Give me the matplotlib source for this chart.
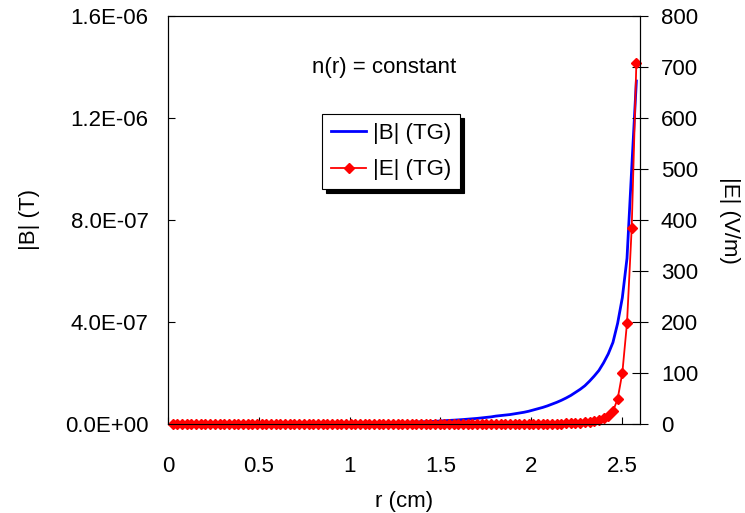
import numpy as np
import matplotlib
matplotlib.use("Agg")
import matplotlib.pyplot as plt

plt.rcParams['font.family'] = ['Liberation Sans', 'DejaVu Sans']

# r grid (cm), 100 points up to the edge at 2.58 cm
r_cm = np.arange(1, 101) * 0.0258

# |B| in nT
B_nT = [
    0.3, 0.3, 0.3, 0.3, 0.4, 0.4, 0.4, 0.4, 0.5, 0.5,
    0.5, 0.6, 0.6, 0.6, 0.7, 0.7, 0.8, 0.8, 0.9, 0.9,
    1.0, 1.0, 1.1, 1.2, 1.2, 1.3, 1.4, 1.5, 1.6, 1.7,
    1.8, 1.9, 2.0, 2.1, 2.2, 2.4, 2.5, 2.7, 2.9, 3.1,
    3.3, 3.5, 3.8, 4.1, 4.4, 4.7, 5.0, 5.4, 5.8, 6.2,
    6.7, 7.2, 7.8, 8.4, 9.0, 9.8, 10.6, 11.6, 12.8, 14.0,
    15.0, 16.2, 17.5, 19.0, 20.5, 22.0, 24.0, 26.0, 28.0, 31.0,
    33.0, 35.0, 37.0, 40.0, 43.0, 46.0, 50.0, 55.0, 60.0, 65.0,
    71.0, 78.0, 85.0, 93.0, 102.0, 112.0, 124.0, 136.0, 150.0, 168.0,
    188.0, 210.0, 240.0, 275.0, 320.0, 395.0, 495.0, 650.0, 1000.0, 1345.0,
]

# |E| in V/m
E_vm = [
    0.0, 0.0, 0.0, 0.0, 0.0, 0.0, 0.0, 0.0, 0.0, 0.0,
    0.0, 0.0, 0.0, 0.0, 0.0, 0.0, 0.0, 0.0, 0.0, 0.0,
    0.0, 0.0, 0.0, 0.0, 0.0, 0.0, 0.0, 0.0, 0.0, 0.0,
    0.0, 0.0, 0.0, 0.0, 0.0, 0.0, 0.0, 0.0, 0.0, 0.0,
    0.0, 0.0, 0.0, 0.0, 0.0, 0.0, 0.0, 0.0, 0.0, 0.0,
    0.0, 0.0, 0.0, 0.0, 0.0, 0.0, 0.0, 0.0, 0.0, 0.0,
    0.0, 0.0, 0.0, 0.0, 0.0, 0.0, 0.0, 0.0, 0.1, 0.1,
    0.1, 0.1, 0.1, 0.2, 0.2, 0.2, 0.3, 0.3, 0.4, 0.5,
    0.5, 0.6, 0.7, 0.8, 1.0, 1.2, 1.5, 2.0, 3.0, 4.0,
    5.5, 8.0, 11.0, 16.0, 25.0, 49.0, 100.0, 198.0, 384.0, 708.0,
]

B_T = np.array(B_nT) * 1e-9
FS = 16

fig = plt.figure(figsize=(7.45, 5.13), dpi=100)
ax = fig.add_axes([168 / 745, 1 - 424 / 513, 472 / 745, 408 / 513])
ax2 = ax.twinx()

lb, = ax.plot(r_cm, B_T, color='#0000ff', lw=2.0, label='|B| (TG)')
le, = ax2.plot(r_cm, E_vm, color='#ff0000', lw=1.3, marker='D', ms=5.5,
               mec='#ff0000', mfc='#ff0000', label='|E| (TG)', clip_on=False)

ax.set_xlim(0, 2.6)
ax.set_ylim(0, 1.6e-6)
ax2.set_ylim(0, 800)

ax.set_xticks([0, 0.5, 1, 1.5, 2, 2.5])
ax.set_xticklabels(['0', '0.5', '1', '1.5', '2', '2.5'])
yt = [0, 4e-7, 8e-7, 1.2e-6, 1.6e-6]
ax.set_yticks(yt)
ax.set_yticklabels(['{:.1E}'.format(v) for v in yt])
ax2.set_yticks(range(0, 801, 100))

ax.tick_params(axis='x', direction='in', length=5, width=0.8, pad=23, labelsize=FS)
ax.tick_params(axis='y', direction='in', length=5, width=0.8, pad=14, labelsize=FS)
ax2.tick_params(axis='y', direction='inout', length=12, width=0.8, pad=9, labelsize=FS)

ax.set_xlabel('r (cm)', fontsize=FS, labelpad=10)
ax.set_ylabel('|B| (T)', fontsize=FS, labelpad=18)
ax2.set_ylabel('|E| (V/m)', fontsize=FS, rotation=270, labelpad=30)

ax.text(0.458, 0.875, 'n(r) = constant', transform=ax.transAxes,
        ha='center', va='center', fontsize=FS)

leg = ax2.legend([lb, le], ['|B| (TG)', '|E| (TG)'], loc='upper left',
                 bbox_to_anchor=(0.326, 0.760), borderaxespad=0,
                 fontsize=FS, fancybox=False, edgecolor='black', framealpha=1,
                 handlelength=1.6, handletextpad=0.3, labelspacing=0.7,
                 borderpad=0.4,
                 shadow={'color': 'black', 'alpha': 1, 'ox': 3, 'oy': -3})
leg.get_frame().set_linewidth(0.8)

for sp in ax.spines.values():
    sp.set_linewidth(0.8)

fig.savefig('out.png', dpi=100)
